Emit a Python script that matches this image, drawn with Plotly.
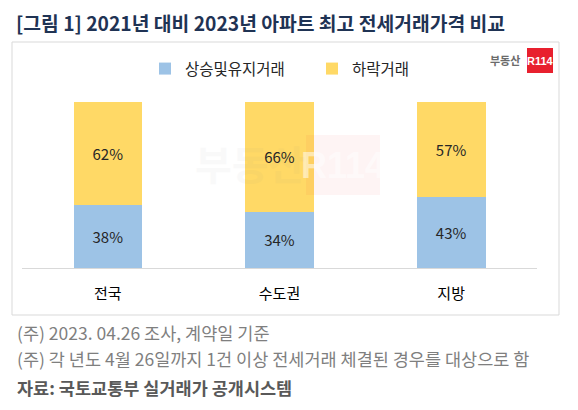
import plotly.graph_objects as go

W, H = 578, 410

regions = ["전국", "수도권", "지방"]
up_keep = [38, 34, 43]
down = [62, 66, 57]
series_names = ["상승및유지거래", "하락거래"]
colors = ["#9DC3E6", "#FFD966"]

title = "[그림 1] 2021년 대비 2023년 아파트 최고 전세거래가격 비교"
notes = [
    "(주) 2023. 04.26 조사, 계약일 기준",
    "(주) 각 년도 4월 26일까지 1건 이상 전세거래 체결된 경우를 대상으로 함",
]
source = "자료: 국토교통부 실거래가 공개시스템"

FONT = "Noto Sans CJK KR"


def px(x):
    return x / W


def py(y):
    return 1 - y / H


def note(x, y, text, size, color, family=FONT, anchor="left", opacity=1):
    return dict(x=px(x), y=py(y), xref="paper", yref="paper", text=text, showarrow=False,
                xanchor=anchor, yanchor="middle", opacity=opacity,
                font=dict(size=size, color=color, family=family))


fig = go.Figure()
for name, vals, color in zip(series_names, [up_keep, down], colors):
    fig.add_trace(
        go.Bar(
            x=regions,
            y=vals,
            name=name,
            marker=dict(color=color, line=dict(width=0)),
            text=[f"{v}%" for v in vals],
            textposition="inside",
            insidetextanchor="middle",
            textfont=dict(size=15, color="#262626", family=FONT),
        )
    )

anns = [
    note(14, 23, f"<b>{title}</b>", 19.3, "#1F3354"),
    note(15, 332, notes[0], 17.5, "#7F7F7F"),
    note(15, 358, notes[1], 17.5, "#7F7F7F"),
    note(15, 387, f"<b>{source}</b>", 17.5, "#595959"),
    # logo
    note(504.5, 60, "<b>부동산</b>", 11, "#6b6b6b", anchor="center"),
    note(540, 61, "<b>R114</b>", 11, "white", family="Liberation Sans", anchor="center"),
    # watermark
    note(250, 163, "<b>부동산</b>", 40, "#808080", anchor="center", opacity=0.04),
    note(343, 165, "<b>R114</b>", 36, "#ffffff", family="Liberation Sans", anchor="center", opacity=0.5),
]

shapes = [
    dict(type="rect", xref="paper", yref="paper", x0=px(12), x1=px(559), y0=py(315), y1=py(42),
         line=dict(color="#D9D9D9", width=1), fillcolor="rgba(0,0,0,0)", layer="below"),
    dict(type="rect", xref="paper", yref="paper", x0=px(527), x1=px(553), y0=py(73), y1=py(48),
         line=dict(width=0), fillcolor="#E8202E", layer="below"),
    dict(type="rect", xref="paper", yref="paper", x0=px(306), x1=px(380), y0=py(195), y1=py(135),
         line=dict(width=0), fillcolor="rgba(232,32,46,0.05)", layer="above"),
]

fig.update_layout(
    width=W,
    height=H,
    barmode="stack",
    bargap=0.6,
    margin=dict(l=0, r=0, t=0, b=0),
    paper_bgcolor="white",
    plot_bgcolor="white",
    font=dict(family=FONT, color="#262626"),
    showlegend=True,
    legend=dict(
        orientation="h",
        x=px(145),
        y=py(69),
        xanchor="left",
        yanchor="middle",
        font=dict(size=15.5, color="#262626", family=FONT),
        itemwidth=30,
        entrywidth=122,
        entrywidthmode="pixels",
        bgcolor="rgba(0,0,0,0)",
        traceorder="normal",
    ),
    xaxis=dict(
        domain=[px(22), px(537)],
        showline=True,
        linecolor="#D9D9D9",
        linewidth=1,
        ticks="",
        showgrid=False,
        tickfont=dict(size=15, color="#000000", family=FONT),
        ticklabelstandoff=12,
    ),
    yaxis=dict(
        domain=[py(268), py(102)],
        range=[0, 100],
        showticklabels=False,
        showgrid=False,
        zeroline=False,
        fixedrange=True,
    ),
    annotations=anns,
    shapes=shapes,
)

fig.write_html(
    "out.html",
    config={"displayModeBar": False},
    post_script="document.body.style.margin='0';",
)
